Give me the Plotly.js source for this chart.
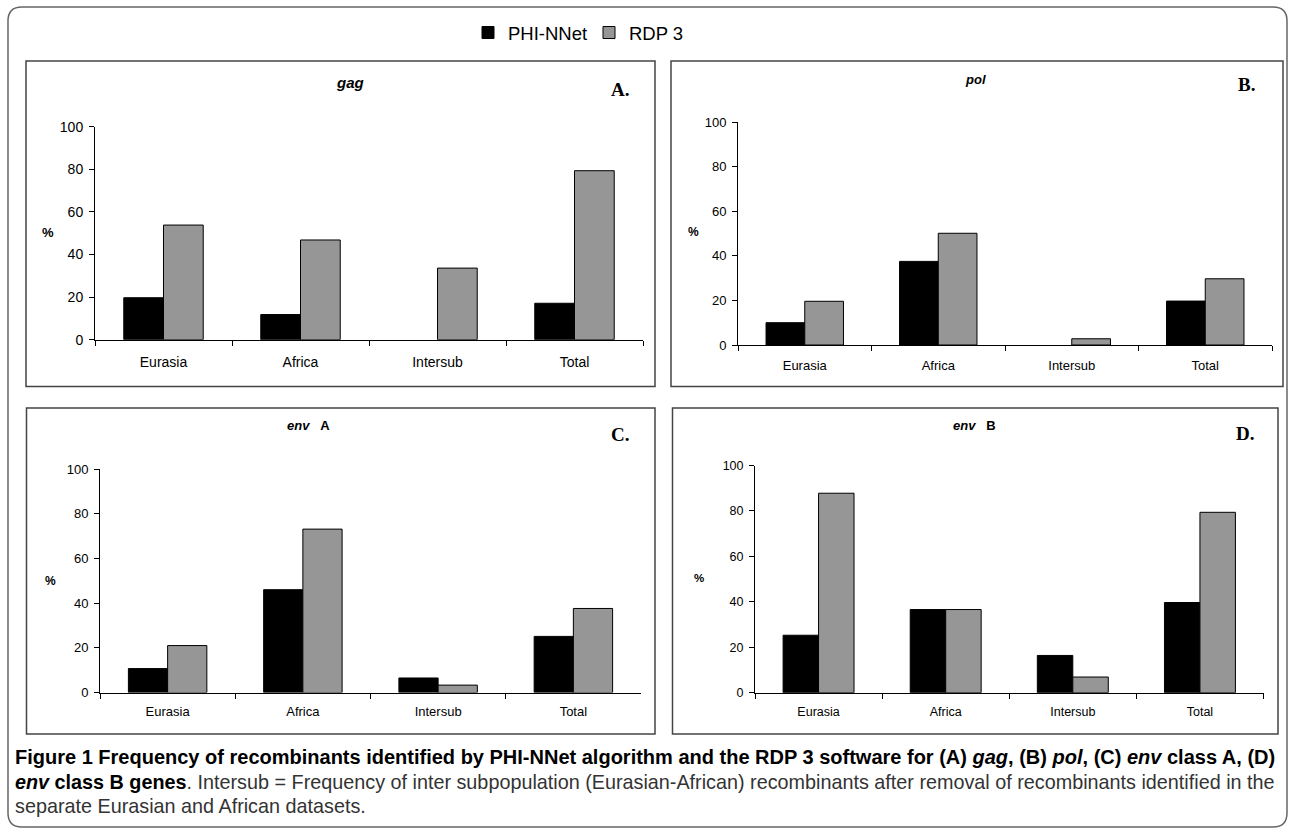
<!DOCTYPE html>
<html>
<head>
<meta charset="utf-8">
<script src="https://cdn.plot.ly/plotly-3.0.1.min.js"></script>
<style>html,body{margin:0;padding:0;background:#fff;}#chart{width:1290px;height:831px;}</style>
</head>
<body>
<div id="chart"></div>
<script>
// ---- data ----
const categories = ['Eurasia', 'Africa', 'Intersub', 'Total'];
const seriesNames = ['PHI-NNet', 'RDP 3'];
const yTicks = [0, 20, 40, 60, 80, 100];

const gagPHI  = [19.7, 11.8, 0, 17.1];
const gagRDP  = [53.8, 46.8, 33.6, 79.3];
const polPHI  = [10.0, 37.5, 0, 19.7];
const polRDP  = [19.6, 50.1, 2.8, 29.7];
const envAPHI = [10.7, 46.0, 6.5, 25.1];
const envARDP = [21.0, 73.1, 3.3, 37.6];
const envBPHI = [25.3, 36.6, 16.4, 39.7];
const envBRDP = [87.8, 36.6, 6.9, 79.4];

const panelTitles  = ['<b><i>gag</i></b>', '<b><i>pol</i></b>', '<b><i>env</i>\u00a0\u00a0\u00a0A</b>', '<b><i>env</i>\u00a0\u00a0\u00a0B</b>'];
const panelLetters = ['A.', 'B.', 'C.', 'D.'];
const captionLines = [
  '<b>Figure 1 Frequency of recombinants identified by PHI-NNet algorithm and the RDP 3 software for (A) <i>gag</i>, (B) <i>pol</i>, (C) <i>env</i> class A, (D)</b>',
  '<b><i>env</i> class B genes</b><span style="color:#333">. Intersub = Frequency of inter subpopulation (Eurasian-African) recombinants after removal of recombinants identified in the</span>',
  '<span style="color:#333">separate Eurasian and African datasets.</span>'
];

// ---- layout geometry (pixels) ----
const W = 1290, H = 831;
const px = x => x / W, py = y => 1 - y / H;
const FONT = 'Liberation Sans, Arial, sans-serif';
const SERIF = 'Liberation Serif, Times New Roman, serif';

const panels = [
  {phi: gagPHI,  rdp: gagRDP,  plot: [95, 643, 339.7, 126.6], box: [26, 61, 655, 386.5], fs: 14, tfs: 15, bw: 0.29,
   title: [350, 82], letter: [620, 90], pct: [48, 232], stand: 9},
  {phi: polPHI,  rdp: polRDP,  plot: [738, 1272, 345, 122],     box: [671, 61, 1283, 386.5], fs: 13, tfs: 13, bw: 0.29,
   title: [975, 80], letter: [1246, 85], pct: [693, 232], stand: 8},
  {phi: envAPHI, rdp: envARDP, plot: [100, 641, 692.5, 469],    box: [26.5, 408, 655, 734], fs: 13, tfs: 13, bw: 0.29,
   title: [308, 426], letter: [620, 434], pct: [50, 581], stand: 7},
  {phi: envBPHI, rdp: envBRDP, plot: [755, 1263.5, 692.7, 465.5], box: [672.5, 408, 1278, 734], fs: 12.5, tfs: 13, bw: 0.279,
   title: [974, 426], letter: [1245, 433], pct: [699, 578], stand: 7}
];

const data = [];
const layout = {
  width: W, height: H,
  margin: {l: 0, r: 0, t: 0, b: 0},
  paper_bgcolor: '#fff', plot_bgcolor: 'rgba(0,0,0,0)',
  barmode: 'group',
  showlegend: true,
  legend: {orientation: 'h', x: px(468), xanchor: 'left', y: py(33), yanchor: 'middle',
           entrywidth: 76, entrywidthmode: 'pixels',
           font: {family: FONT, size: 18.5, color: '#000'}, traceorder: 'normal', itemclick: false},
  shapes: [], annotations: []
};

const lineW = vals => vals.map(v => (v > 0 ? 1 : 0));

panels.forEach((p, i) => {
  const s = i === 0 ? '' : String(i + 1);
  data.push({type: 'bar', x: categories, y: p.phi, name: seriesNames[0], xaxis: 'x' + s, yaxis: 'y' + s,
    width: p.bw, offset: -p.bw, marker: {color: '#000000', line: {color: '#000', width: lineW(p.phi)}},
    showlegend: i === 0, legendgroup: 'phi', hoverinfo: 'x+y'});
  data.push({type: 'bar', x: categories, y: p.rdp, name: seriesNames[1], xaxis: 'x' + s, yaxis: 'y' + s,
    width: p.bw, offset: 0, marker: {color: '#969696', line: {color: '#000', width: lineW(p.rdp)}},
    showlegend: i === 0, legendgroup: 'rdp', hoverinfo: 'x+y'});

  const [x0, x1, yz, yh] = p.plot;
  layout['xaxis' + s] = {domain: [px(x0), px(x1)], anchor: 'y' + s, type: 'category', range: [-0.5, 3.5],
    showline: true, linecolor: '#000', linewidth: 1, ticks: 'outside', tickson: 'boundaries', ticklen: 5,
    tickcolor: '#000', tickwidth: 1, showgrid: false, zeroline: false, ticklabelstandoff: p.stand,
    tickfont: {family: FONT, size: p.fs, color: '#000'}, fixedrange: true};
  layout['yaxis' + s] = {domain: [py(yz), py(yh)], anchor: 'x' + s, range: [0, 100], tickvals: yTicks,
    showline: true, linecolor: '#000', linewidth: 1, ticks: 'outside', ticklen: 5, tickcolor: '#000',
    showgrid: false, zeroline: false, ticklabelstandoff: 3,
    tickfont: {family: FONT, size: p.fs, color: '#000'}, fixedrange: true};

  const [bx0, by0, bx1, by1] = p.box;
  layout.shapes.push({type: 'rect', xref: 'paper', yref: 'paper', x0: px(bx0), x1: px(bx1), y0: py(by1), y1: py(by0),
    line: {color: '#444', width: 1.5}, fillcolor: 'rgba(0,0,0,0)'});

  layout.annotations.push({xref: 'paper', yref: 'paper', x: px(p.title[0]), y: py(p.title[1]), xanchor: 'center', yanchor: 'middle',
    text: panelTitles[i], showarrow: false, font: {family: FONT, size: p.tfs, color: '#000'}});
  layout.annotations.push({xref: 'paper', yref: 'paper', x: px(p.letter[0]), y: py(p.letter[1]), xanchor: 'center', yanchor: 'middle',
    text: '<b>' + panelLetters[i] + '</b>', showarrow: false, font: {family: SERIF, size: 19, color: '#000'}});
  layout.annotations.push({xref: 'paper', yref: 'paper', x: px(p.pct[0]), y: py(p.pct[1]), xanchor: 'center', yanchor: 'middle',
    text: '<b>%</b>', showarrow: false, font: {family: FONT, size: p.fs - 1, color: '#000'}});
});

// outer rounded frame
(function () {
  const x0 = 8, y0 = 7, x1 = 1287, y1 = 827, r = 14;
  const X = v => px(v).toFixed(5), Y = v => py(v).toFixed(5);
  const path = `M${X(x0 + r)},${Y(y0)} L${X(x1 - r)},${Y(y0)} Q${X(x1)},${Y(y0)} ${X(x1)},${Y(y0 + r)} ` +
    `L${X(x1)},${Y(y1 - r)} Q${X(x1)},${Y(y1)} ${X(x1 - r)},${Y(y1)} L${X(x0 + r)},${Y(y1)} ` +
    `Q${X(x0)},${Y(y1)} ${X(x0)},${Y(y1 - r)} L${X(x0)},${Y(y0 + r)} Q${X(x0)},${Y(y0)} ${X(x0 + r)},${Y(y0)} Z`;
  layout.shapes.push({type: 'path', xref: 'paper', yref: 'paper', path: path, line: {color: '#666', width: 1.5}});
})();

// caption
const capY = [757, 782, 806];
const capSize = [20, 19.8, 19.8];
captionLines.forEach((t, k) => {
  layout.annotations.push({xref: 'paper', yref: 'paper', x: px(13), y: py(capY[k]), xanchor: 'left', yanchor: 'middle',
    align: 'left', text: t, showarrow: false, font: {family: FONT, size: capSize[k], color: '#000'}});
});

Plotly.newPlot('chart', data, layout, {displayModeBar: false, staticPlot: true});
</script>
</body>
</html>
